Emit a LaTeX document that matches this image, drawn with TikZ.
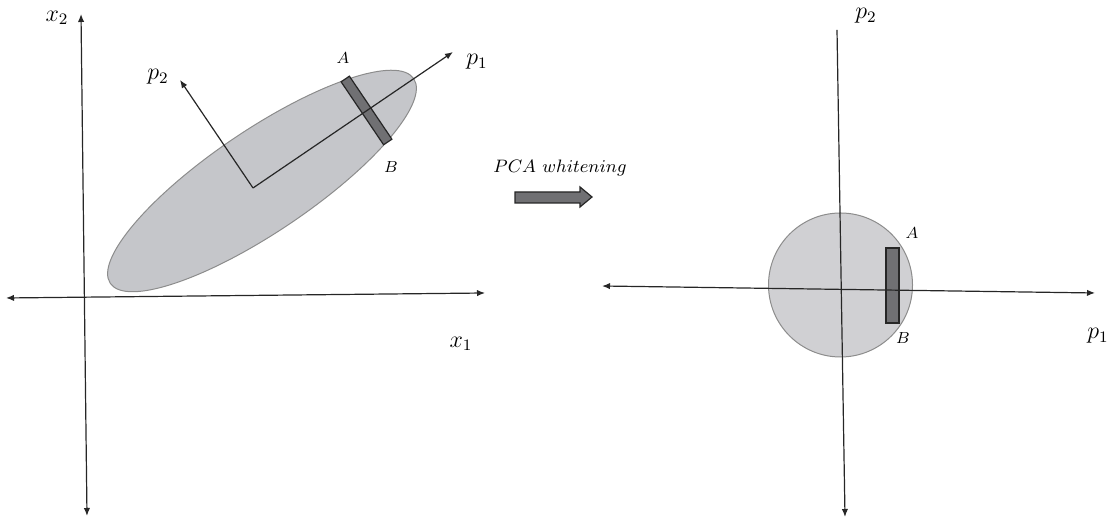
\documentclass[tikz,border=0pt]{standalone}
\usepackage{amsmath}
\usepackage{tikz}
\usetikzlibrary{arrows.meta}
\definecolor{ellgray}{HTML}{C5C6CA}
\definecolor{discgray}{HTML}{D0D0D3}
\definecolor{bargray}{HTML}{707073}

\begin{document}
\begin{tikzpicture}[x=0.5pt, y=0.5pt,
  axis/.style={draw=black!85, line width=0.6pt},
  tip/.style={-{Latex[length=4pt,width=3.2pt]}},
  bothtips/.style={{Latex[length=4pt,width=3.2pt]}-{Latex[length=4pt,width=3.2pt]}},
  lbl/.style={font=\fontsize{12}{14}\selectfont, inner sep=0pt},
  ptlbl/.style={font=\fontsize{8.5}{10}\selectfont, inner sep=0pt},
  cloud/.style={draw=black!45, line width=0.5pt},
  bar/.style={fill=bargray, draw=black!85, line width=0.6pt}]
  \useasboundingbox (0,0) rectangle (1117,522);

  % Donnees brutes (gauche)
  \fill[cloud, fill=ellgray, rotate around={34:(262,341)}] (262,341) ellipse (183 and 51);
  \draw[bar, rotate around={34:(366.5,411.5)}] (361.5,373.5) rectangle (371.5,449.5);
  \coordinate (x2top) at (81,508);
  \coordinate (x2bot) at (87,6);
  \coordinate (x1left) at (6,224);
  \coordinate (x1right) at (485,229);
  \coordinate (O) at (253,334);
  \coordinate (p1tip) at (453,470);
  \coordinate (p2tip) at (180,442);
  \draw[axis, bothtips] (x2top) -- (x2bot);
  \draw[axis, bothtips] (x1left) -- (x1right);
  \draw[axis, tip] (O) -- (p1tip);
  \draw[axis, tip] (O) -- (p2tip);
  \node[lbl] (x2lbl) at (57,504) {$x_2$};
  \node[lbl] (x1lbl) at (461,178) {$x_1$};
  \node[lbl] (p1lbl) at (477,460) {$p_1$};
  \node[lbl] (p2lbl) at (158,445) {$p_2$};
  \node[ptlbl] (Albl) at (343,464) {$A$};
  \node[ptlbl] (Blbl) at (391,355) {$B$};

  % Fleche de transformation
  \node[font=\fontsize{9.5}{11}\selectfont, inner sep=0pt] (pca) at (560,354) {$PCA\ whitening$};
  \draw[bar] (515,319) -- (580,319) -- (580,315) -- (592,325) -- (580,335) -- (580,330) -- (515,330) -- cycle;

  % Donnees blanchies (droite)
  \fill[cloud, fill=discgray] (840.5,237) circle (72);
  \draw[bar] (886,199) rectangle (899,274);
  \coordinate (q2top) at (837,492);
  \coordinate (q2bot) at (845,5);
  \coordinate (q1left) at (602,236);
  \coordinate (q1right) at (1095,229);
  \draw[axis, tip] (q2top) -- (q2bot);
  \draw[axis, bothtips] (q1left) -- (q1right);
  \node[lbl] (q2lbl) at (866,506) {$p_2$};
  \node[lbl] (q1lbl) at (1098,186) {$p_1$};
  \node[ptlbl] (Arlbl) at (912,289) {$A$};
  \node[ptlbl] (Brlbl) at (903,184) {$B$};
\end{tikzpicture}
\end{document}
